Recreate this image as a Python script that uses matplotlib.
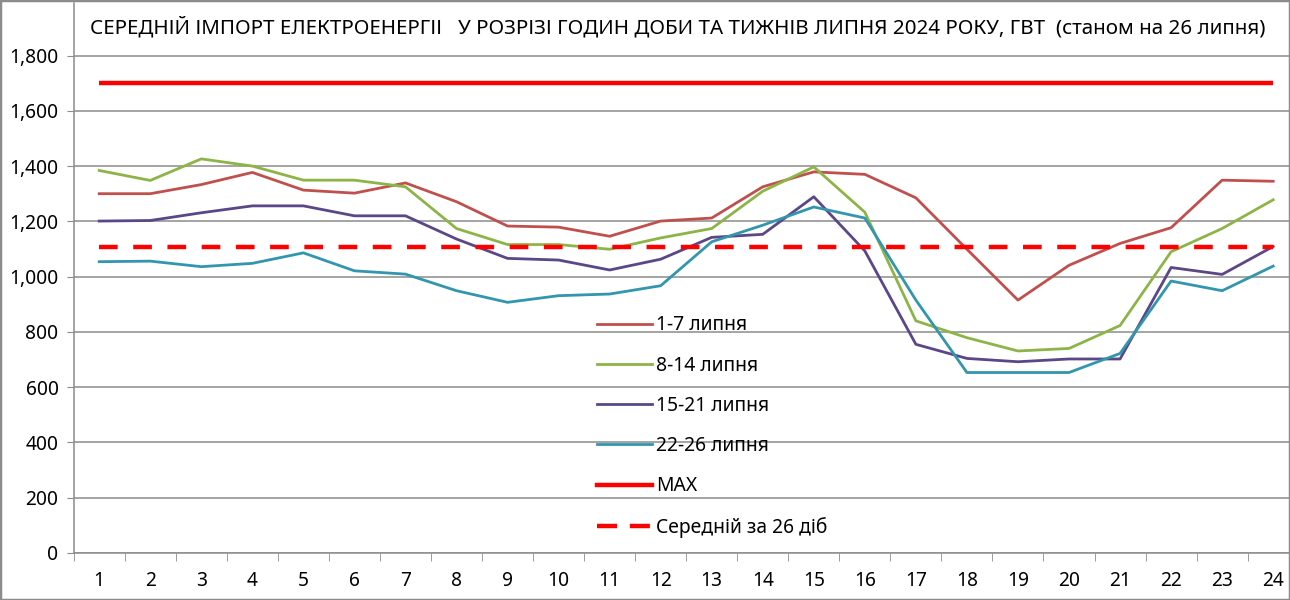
import matplotlib.pyplot as plt
from matplotlib.lines import Line2D
from matplotlib.patches import Rectangle

plt.rcParams['font.family'] = ['Noto Sans', 'DejaVu Sans']

hours = list(range(1, 25))

# середній імпорт по тижнях, МВт
week1 = [1300, 1300, 1333, 1377, 1313, 1302, 1339, 1271, 1183, 1179, 1146, 1201,
         1212, 1325, 1379, 1370, 1285, 1099, 915, 1041, 1120, 1177, 1349, 1345]
week2 = [1384, 1348, 1426, 1400, 1349, 1349, 1325, 1174, 1116, 1116, 1099, 1140,
         1174, 1309, 1397, 1233, 840, 779, 731, 740, 823, 1090, 1174, 1278]
week3 = [1201, 1203, 1231, 1256, 1256, 1220, 1220, 1136, 1066, 1060, 1024, 1063,
         1142, 1153, 1289, 1093, 755, 704, 692, 702, 702, 1033, 1008, 1109]
week4 = [1054, 1056, 1036, 1048, 1086, 1021, 1009, 949, 907, 931, 937, 967,
         1126, 1186, 1252, 1212, 915, 653, 653, 653, 722, 984, 949, 1038]
max_value = 1700
mean_26 = 1107

labels = ['1-7 липня', '8-14 липня', '15-21 липня', '22-26 липня', 'MAX',
          'Середній за 26 діб']
yticks = [0, 200, 400, 600, 800, 1000, 1200, 1400, 1600, 1800]

fig = plt.figure(figsize=(12.9, 6), dpi=100)
# область графіка трохи виходить за правий край, як на оригіналі
ax = fig.add_axes([73.7 / 1290, 47 / 600, 1225 / 1290, 550 / 600])

ax.plot(hours, week1, color='#C0504D', lw=2)
ax.plot(hours, week2, color='#8DB446', lw=2)
ax.plot(hours, week3, color='#5B4687', lw=2)
ax.plot(hours, week4, color='#3196AE', lw=2)
ax.plot(hours, [max_value] * 24, color='#FF0000', lw=3.2, solid_capstyle='butt')
ax.plot(hours, [mean_26] * 24, color='#FF0000', lw=3.2, dashes=(4.2, 3.5))

ax.set_xlim(0.5, 24.5)
ax.set_ylim(0, 1990)
ax.set_yticks(yticks)
ax.set_yticklabels([f'{v:,}' for v in yticks], fontsize=13.8)
ax.yaxis.grid(True, color='#8C8C8C', lw=1.1)
ax.set_axisbelow(True)
ax.tick_params(axis='y', length=5, color='#8C8C8C', pad=6)

ax.set_xticks(hours)
ax.set_xticklabels([str(h) for h in hours], fontsize=13.8)
ax.set_xticks([h + 0.5 for h in range(0, 25)], minor=True)
ax.tick_params(axis='x', which='major', length=0, pad=13)
ax.tick_params(axis='x', which='minor', length=6, color='#8C8C8C')

for side in ['top', 'right']:
    ax.spines[side].set_visible(False)
for side in ['left', 'bottom']:
    ax.spines[side].set_color('#8C8C8C')
    ax.spines[side].set_linewidth(1.1)

fig.text(90 / 1290, 1 - 28 / 600,
         'СЕРЕДНІЙ ІМПОРТ ЕЛЕКТРОЕНЕРГІІ   У РОЗРІЗІ ГОДИН ДОБИ ТА ТИЖНІВ ЛИПНЯ 2024 РОКУ, ГВТ  (станом на 26 липня)',
         fontsize=14.8, va='center', ha='left')

handles = [
    Line2D([], [], color='#C0504D', lw=2),
    Line2D([], [], color='#8DB446', lw=2),
    Line2D([], [], color='#5B4687', lw=2),
    Line2D([], [], color='#3196AE', lw=2),
    Line2D([], [], color='#FF0000', lw=3.2),
    Line2D([], [], color='#FF0000', lw=3.2, dashes=(4.5, 2.9)),
]
fig.legend(handles, labels, loc='upper left', bbox_to_anchor=(580 / 1290, 1 - 298 / 600),
           frameon=False, fontsize=13.9, handlelength=2.85, handletextpad=0.2,
           labelspacing=1.05)

fig.patches.append(Rectangle((0, 0), 1, 1, transform=fig.transFigure, fill=False,
                             edgecolor='#8C8C8C', lw=2.5))

fig.savefig('out.png', dpi=100)
